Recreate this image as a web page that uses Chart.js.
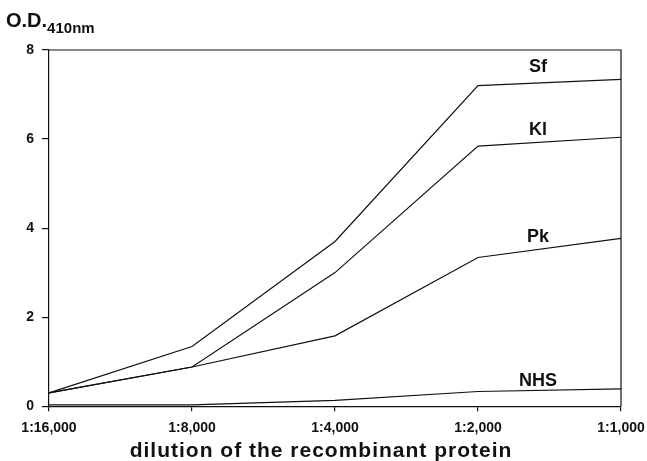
<!DOCTYPE html>
<html><head><meta charset="utf-8">
<script src="https://cdn.jsdelivr.net/npm/chart.js@4/dist/chart.umd.min.js"></script>
<style>html,body{margin:0;padding:0;background:#fff}#wrap{width:647px;height:461px}</style>
</head><body><div id="wrap"><canvas id="c"></canvas></div>
<script>
const categories = ['1:16,000','1:8,000','1:4,000','1:2,000','1:1,000'];
const sf  = [0.30, 1.34, 3.70, 7.20, 7.34];
const kl  = [0.30, 0.88, 3.00, 5.84, 6.04];
const pk  = [0.30, 0.88, 1.58, 3.34, 3.77];
const nhs = [0.03, 0.03, 0.13, 0.33, 0.39];
const seriesNames = ['Sf','Kl','Pk','NHS'];
const yTicks = [0,2,4,6,8];
const xTitle = 'dilution of the recombinant protein';

const FONT = "'Liberation Sans', Arial, sans-serif";
const ink = '#111';

// label anchors: [category index (fractional), y value]
const labelPos = [[3.42, 7.5], [3.42, 6.08], [3.42, 3.69], [3.42, 0.45]];

const annot = {
  id: 'annot',
  afterDraw(chart) {
    const ctx = chart.ctx, a = chart.chartArea;
    const xs = chart.scales.x, ys = chart.scales.y;
    ctx.save();
    ctx.strokeStyle = ink; ctx.lineWidth = 1.2;
    ctx.beginPath();
    ctx.moveTo(a.left, a.top); ctx.lineTo(a.right, a.top); ctx.lineTo(a.right, a.bottom);
    ctx.stroke();
    ctx.fillStyle = ink;
    ctx.font = "bold 18px " + FONT;
    ctx.textAlign = 'center'; ctx.textBaseline = 'alphabetic';
    seriesNames.forEach((n, i) => {
      const p = labelPos[i];
      const i0 = Math.floor(p[0]), i1 = Math.ceil(p[0]);
      const x0 = xs.getPixelForValue(i0), x1 = xs.getPixelForValue(i1);
      const x = x0 + (x1 - x0) * (p[0] - i0);
      ctx.fillText(n, x, ys.getPixelForValue(p[1]));
    });
    ctx.textAlign = 'left';
    ctx.font = "bold 20px " + FONT;
    ctx.fillText('O.D.', 6, 27);
    const w = ctx.measureText('O.D.').width;
    ctx.font = "bold 15px " + FONT;
    ctx.fillText('410nm', 6 + w, 33);
    // x axis title
    ctx.font = "bold 21px " + FONT;
    ctx.textAlign = 'center';
    ctx.letterSpacing = '1px';
    ctx.fillText(xTitle, 321, 457);
    ctx.restore();
  }
};

const mk = (d) => ({data: d, borderColor: ink, borderWidth: 1.2, pointRadius: 0, fill: false, tension: 0});

new Chart(document.getElementById('c'), {
  type: 'line',
  data: { labels: categories, datasets: [mk(sf), mk(kl), mk(pk), mk(nhs)] },
  options: {
    responsive: true, maintainAspectRatio: false, animation: false,
    layout: { padding: { top: 50, right: 26, left: 0, bottom: 15 } },
    plugins: { legend: { display: false }, tooltip: { enabled: false } },
    scales: {
      x: {
        offset: false,
        afterFit: (s) => { s.paddingRight = 0; s.paddingLeft = 0; },
        grid: { display: true, drawOnChartArea: false, drawTicks: true, tickLength: 5, color: ink, lineWidth: 1.2 },
        border: { display: true, color: ink, width: 1.2 },
        ticks: { color: ink, font: { family: FONT, weight: 'bold', size: 14 }, padding: 9, maxRotation: 0, autoSkip: false },
        title: { display: false }
      },
      y: {
        min: 0, max: 8,
        afterBuildTicks: (s) => { s.ticks = yTicks.map(v => ({ value: v })); },
        afterFit: (s) => { s.width = 49; },
        grid: { display: true, drawOnChartArea: false, drawTicks: true, tickLength: 7, color: ink, lineWidth: 1.2 },
        border: { display: true, color: ink, width: 1.2 },
        ticks: { color: ink, font: { family: FONT, weight: 'bold', size: 14 }, padding: 8 }
      }
    }
  },
  plugins: [annot]
});
</script></body></html>
